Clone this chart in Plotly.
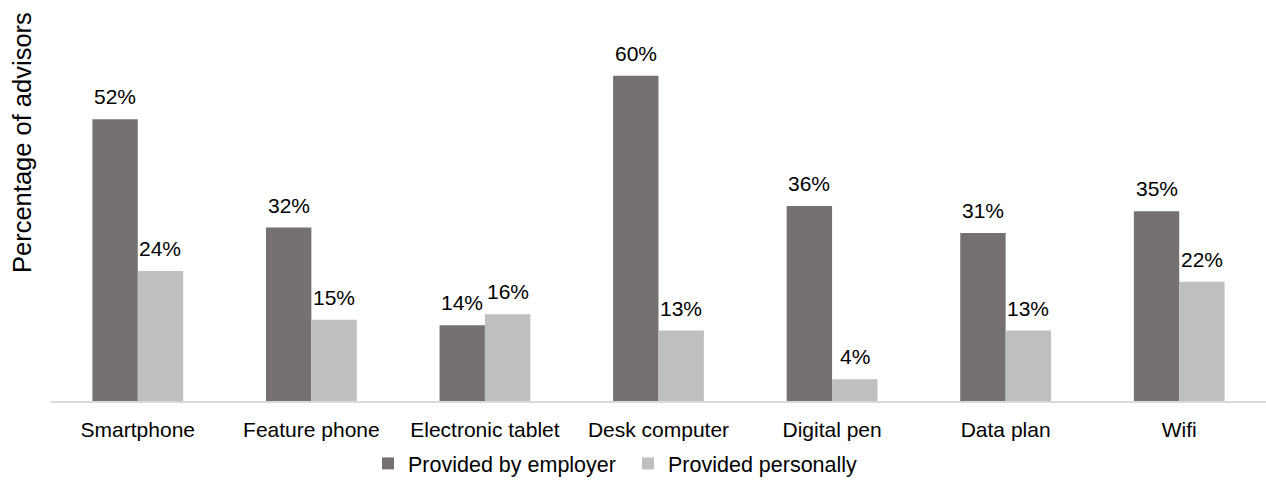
import plotly.graph_objects as go

categories = ["Smartphone", "Feature phone", "Electronic tablet", "Desk computer", "Digital pen", "Data plan", "Wifi"]
employer = [52, 32, 14, 60, 36, 31, 35]
personal = [24, 15, 16, 13, 4, 13, 22]
series_names = ["Provided by employer", "Provided personally"]

font = "Liberation Sans, Arial, sans-serif"
L, T, B = 51, 20, 89
W, H = 1266, 490
plot_w = W - L
plot_h = H - T - B
bargap = 0.477
bar_px = plot_w / len(categories) * (1 - bargap) / 2

fig = go.Figure()
fig.add_trace(go.Bar(x=categories, y=employer, name=series_names[0],
                     marker=dict(color="#767171", line=dict(width=0))))
fig.add_trace(go.Bar(x=categories, y=personal, name=series_names[1],
                     marker=dict(color="#bfbfbf", line=dict(width=0))))

annotations = []
for vals, shift in ((employer, -bar_px / 2), (personal, bar_px / 2)):
    for c, v in zip(categories, vals):
        annotations.append(dict(x=c, y=v, xref="x", yref="y", text=f"{v}%",
                                showarrow=False, xanchor="center", yanchor="bottom",
                                xshift=shift, yshift=9,
                                font=dict(size=21, family=font, color="#000000")))
annotations.append(dict(text="Percentage of advisors", textangle=-90,
                        xref="paper", yref="paper", x=-(L - 22) / plot_w, y=(H - B - 143) / plot_h,
                        xanchor="center", yanchor="middle", showarrow=False,
                        font=dict(size=25.5, family=font, color="#000000")))

fig.update_layout(
    width=W, height=H,
    margin=dict(l=L, r=0, t=T, b=B),
    paper_bgcolor="white", plot_bgcolor="white",
    barmode="group", bargap=bargap, bargroupgap=0,
    font=dict(family=font, size=21, color="#000000"),
    showlegend=True,
    legend=dict(orientation="h", x=(368 - L) / plot_w, xanchor="left", y=-0.11, yanchor="top",
                font=dict(size=21.5, family=font, color="#000000"),
                itemwidth=30, entrywidth=215, traceorder="normal"),
    xaxis=dict(showline=True, linecolor="#d9d9d9", linewidth=2,
               ticks="outside", ticklen=9, tickcolor="rgba(0,0,0,0)",
               tickfont=dict(size=21, family=font, color="#000000"),
               showgrid=False),
    yaxis=dict(range=[0, 70.3], visible=False, showgrid=False),
    annotations=annotations,
)

fig.write_html("out.html")
